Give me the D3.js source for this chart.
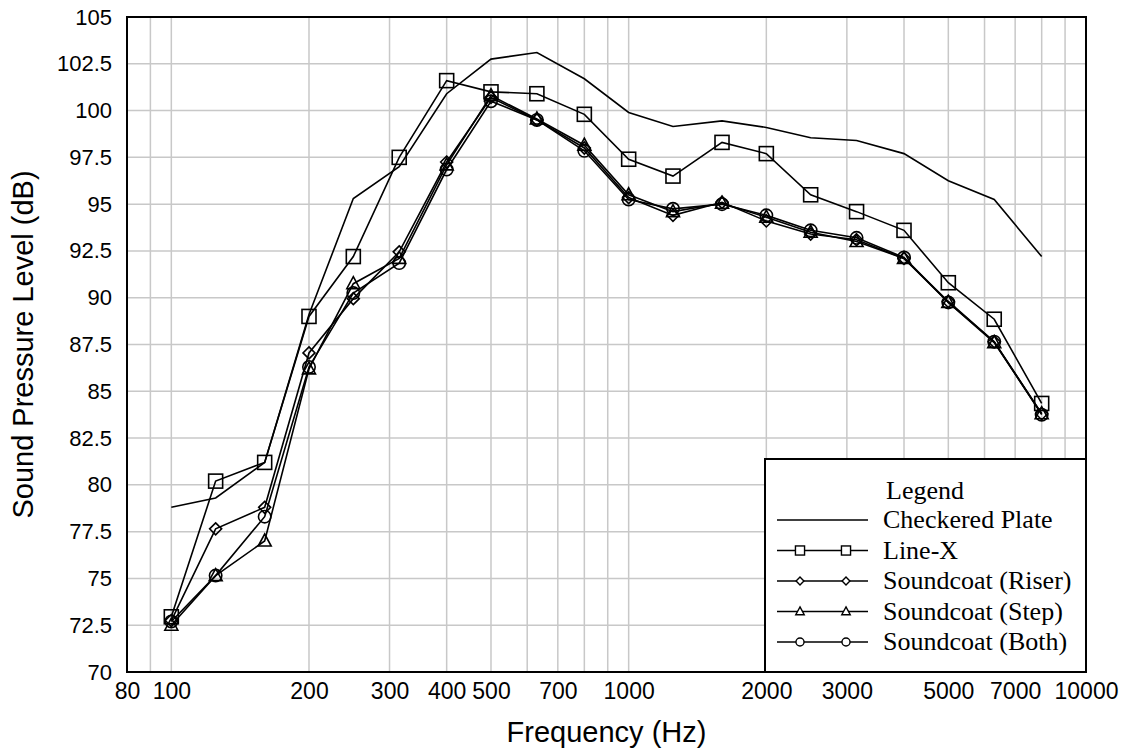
<!DOCTYPE html>
<html>
<head>
<meta charset="utf-8">
<script src="https://cdn.jsdelivr.net/npm/d3@7"></script>
<style>
  body { margin: 0; background: #fff; }
  .tick text { font-family: "Liberation Sans", Arial, sans-serif; }
</style>
</head>
<body>
<div id="chart"></div>
<script>
// data (1/3 octave bands)
var freqs = [100, 125, 160, 200, 250, 315, 400, 500, 630, 800, 1000, 1250, 1600, 2000, 2500, 3150, 4000, 5000, 6300, 8000];
var checkered = [78.8, 79.3, 81.2, 89.1, 95.3, 97.0, 100.9, 102.75, 103.1, 101.7, 99.9, 99.15, 99.45, 99.1, 98.55, 98.4, 97.7, 96.25, 95.25, 92.2];
var lineX = [72.95, 80.2, 81.2, 89.0, 92.2, 97.5, 101.6, 101.0, 100.9, 99.8, 97.4, 96.5, 98.3, 97.7, 95.5, 94.6, 93.6, 90.8, 88.85, 84.35];
var riser = [72.75, 77.65, 78.8, 87.05, 89.95, 92.45, 97.25, 100.7, 99.5, 98.0, 95.35, 94.4, 95.1, 94.1, 93.4, 93.1, 92.1, 89.8, 87.65, 83.8];
var step = [72.5, 75.15, 77.0, 86.2, 90.75, 92.1, 97.1, 100.8, 99.55, 98.15, 95.5, 94.6, 95.05, 94.3, 93.5, 93.0, 92.1, 89.75, 87.6, 83.8];
var both = [72.7, 75.15, 78.3, 86.3, 90.25, 91.85, 96.85, 100.5, 99.5, 97.85, 95.25, 94.75, 95.0, 94.4, 93.6, 93.2, 92.15, 89.75, 87.65, 83.75];
var seriesNames = ["Checkered Plate", "Line-X", "Soundcoat (Riser)", "Soundcoat (Step)", "Soundcoat (Both)"];
var seriesMarkers = ["none", "square", "diamond", "triangle", "circle"];
var xTickValues = [80, 100, 200, 300, 400, 500, 700, 1000, 2000, 3000, 5000, 7000, 10000];
var yTickValues = [70, 72.5, 75, 77.5, 80, 82.5, 85, 87.5, 90, 92.5, 95, 97.5, 100, 102.5, 105];

var chartWidth = 1125, chartHeight = 751;
var plotLeft = 127, plotRight = 1086, plotTop = 17, plotBottom = 672;

var svg = d3.select("#chart").append("svg")
    .attr("width", chartWidth)
    .attr("height", chartHeight);

// scales
var x_scale = d3.scaleLog().domain([80, 10000]).range([plotLeft, plotRight]);
var y_scale = d3.scaleLinear().domain([70, 105]).range([plotBottom, plotTop]);

// grid (every 1..9 x decade)
var gridX = [];
[10, 100, 1000].forEach(function(dec) {
    for (var k = 1; k <= 9; k++) {
        if (k * dec > 80) gridX.push(k * dec);
    }
});
svg.append("g").selectAll("line")
    .data(gridX).enter()
    .append("line")
    .attr("x1", d => x_scale(d)).attr("x2", d => x_scale(d))
    .attr("y1", plotTop).attr("y2", plotBottom)
    .attr("stroke", "#c8c8c8").attr("stroke-width", 1.5);
svg.append("g").selectAll("line")
    .data(yTickValues).enter()
    .append("line")
    .attr("x1", plotLeft).attr("x2", plotRight)
    .attr("y1", d => y_scale(d)).attr("y2", d => y_scale(d))
    .attr("stroke", "#c8c8c8").attr("stroke-width", 1.5);

// axes
var x_axis = d3.axisBottom(x_scale)
    .tickValues(xTickValues)
    .tickFormat(d => d)
    .tickSize(0)
    .tickPadding(11);
var y_axis = d3.axisLeft(y_scale)
    .tickValues(yTickValues)
    .tickFormat(d => d)
    .tickSize(0)
    .tickPadding(15);
var gx = svg.append("g")
    .attr("transform", "translate(0," + plotBottom + ")")
    .call(x_axis);
gx.select(".domain").remove();
gx.selectAll("text").attr("font-size", 23).attr("fill", "#000");
var gy = svg.append("g")
    .attr("transform", "translate(" + plotLeft + ",0)")
    .call(y_axis);
gy.select(".domain").remove();
gy.selectAll("text").attr("font-size", 22).attr("fill", "#000");

// axis titles
svg.append("text")
    .attr("x", (plotLeft + plotRight) / 2)
    .attr("y", 742)
    .attr("text-anchor", "middle")
    .attr("font-family", "Liberation Sans, Arial, sans-serif")
    .attr("font-size", 29)
    .text("Frequency (Hz)");
svg.append("text")
    .attr("transform", "translate(33," + (plotTop + plotBottom) / 2 + ") rotate(-90)")
    .attr("text-anchor", "middle")
    .attr("font-family", "Liberation Sans, Arial, sans-serif")
    .attr("font-size", 29)
    .text("Sound Pressure Level (dB)");

// markers (k = scale factor)
function marker(sel, type, k) {
    if (type == "square") {
        sel.append("rect").attr("x", -7 * k).attr("y", -7 * k).attr("width", 14 * k).attr("height", 14 * k);
    } else if (type == "diamond") {
        var h = 6 * k;
        sel.append("path").attr("d", "M0," + (-h) + "L" + h + ",0L0," + h + "L" + (-h) + ",0Z");
    } else if (type == "triangle") {
        sel.append("path").attr("d", "M0," + (-7 * k) + "L" + (6.5 * k) + "," + (5 * k) + "L" + (-6.5 * k) + "," + (5 * k) + "Z");
    } else if (type == "circle") {
        sel.append("circle").attr("r", 6.2 * k);
    }
}

// series
var allSeries = [checkered, lineX, riser, step, both];
var line = d3.line()
    .x((d, i) => x_scale(freqs[i]))
    .y(d => y_scale(d));
allSeries.forEach(function(vals, si) {
    svg.append("path")
        .datum(vals)
        .attr("d", line)
        .attr("fill", "none")
        .attr("stroke", "#000")
        .attr("stroke-width", 1.6);
    if (seriesMarkers[si] == "none") return;
    var pts = svg.append("g").selectAll("g")
        .data(vals).enter()
        .append("g")
        .attr("transform", (d, i) => "translate(" + x_scale(freqs[i]) + "," + y_scale(d) + ")")
        .attr("fill", "none")
        .attr("stroke", "#000")
        .attr("stroke-width", 1.6);
    pts.each(function() { marker(d3.select(this), seriesMarkers[si], 1); });
});

// frame
svg.append("rect")
    .attr("x", plotLeft).attr("y", plotTop)
    .attr("width", plotRight - plotLeft).attr("height", plotBottom - plotTop)
    .attr("fill", "none")
    .attr("stroke", "#000")
    .attr("stroke-width", 2);

// legend
var lg = svg.append("g");
lg.append("rect")
    .attr("x", 765).attr("y", 459)
    .attr("width", plotRight - 765).attr("height", plotBottom - 459)
    .attr("fill", "#fff")
    .attr("stroke", "#000")
    .attr("stroke-width", 2);
lg.append("text")
    .attr("x", 886).attr("y", 499)
    .attr("font-family", "Liberation Serif, Times New Roman, serif")
    .attr("font-size", 26)
    .text("Legend");
seriesNames.forEach(function(name, i) {
    var ly = 520 + i * 30.5;
    lg.append("line")
        .attr("x1", 777).attr("x2", 868)
        .attr("y1", ly).attr("y2", ly)
        .attr("stroke", "#000").attr("stroke-width", 1.6);
    if (seriesMarkers[i] != "none") {
        [800, 846].forEach(function(mx) {
            var m = lg.append("g")
                .attr("transform", "translate(" + mx + "," + ly + ")")
                .attr("fill", "#fff")
                .attr("stroke", "#000")
                .attr("stroke-width", 1.4);
            marker(m, seriesMarkers[i], 0.65);
        });
    }
    lg.append("text")
        .attr("x", 883).attr("y", ly + 8)
        .attr("font-family", "Liberation Serif, Times New Roman, serif")
        .attr("font-size", 26)
        .text(name);
});
</script>
</body>
</html>
